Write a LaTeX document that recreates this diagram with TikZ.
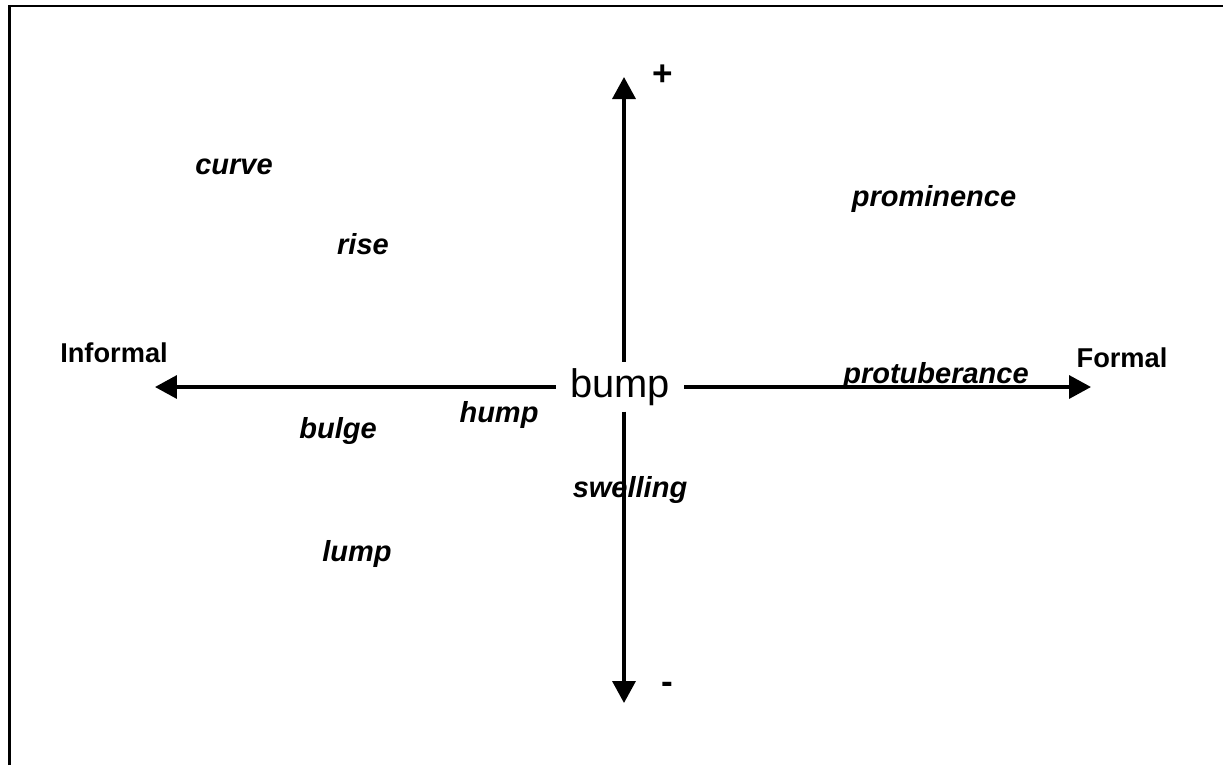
\documentclass[tikz,border=0pt]{standalone}
\usepackage{fontspec}
\setmainfont{Liberation Sans}
\usetikzlibrary{
  arrows.meta,
  positioning
}
\tikzset{
  wordnode/.style={font=\fontsize{16.5}{20}\selectfont\bfseries\itshape,inner sep=0pt,anchor=base},
  polenode/.style={font=\fontsize{15.5}{19}\selectfont\bfseries,inner sep=0pt,anchor=base},
  signnode/.style={font=\fontsize{20}{24}\selectfont\bfseries,inner sep=0pt},
  headnode/.style={font=\fontsize{22.7}{27}\selectfont,inner xsep=0.28cm,inner ysep=0.12cm,anchor=base},
  axisarrow/.style={-{Triangle[length=4.4mm,width=4.6mm]},line width=2pt},
  framerule/.style={line width=1.3pt}
}

\begin{document}
\begin{tikzpicture}[x=0.02cm,y=-0.02cm]
\useasboundingbox (0,0) rectangle (1223,765);
\draw[framerule] (9.5,765) -- (9.5,6) -- (1223,6);

% axis ends
\coordinate (top) at (624,77);
\coordinate (bottom) at (624,703);
\coordinate (informal) at (155,387);
\coordinate (formal) at (1091,387);

\node[headnode] (bump) at (620,397) {bump};

\draw[axisarrow] (bump.north -| top) -- (top);
\draw[axisarrow] (bump.south -| bottom) -- (bottom);
\draw[axisarrow] (bump.west |- informal) -- (informal);
\draw[axisarrow] (bump.east |- formal) -- (formal);

\node[signnode] (plus) at (663,75) {+};
\node[signnode] (minus) at (667,688) {-};
\node[polenode] (infl) at (114,362) {Informal};
\node[polenode] (fl) at (1122,367) {Formal};

% the words
\node[wordnode] (curve) at (234,174) {curve};
\node[wordnode] (rise) at (363,254) {rise};
\node[wordnode] (prominence) at (934,206) {prominence};
\node[wordnode] (protuberance) at (936,383) {protuberance};
\node[wordnode] (hump) at (499,422) {hump};
\node[wordnode] (bulge) at (338,438) {bulge};
\node[wordnode] (swelling) at (630,497) {swelling};
\node[wordnode] (lump) at (357,561) {lump};
\end{tikzpicture}
\end{document}
